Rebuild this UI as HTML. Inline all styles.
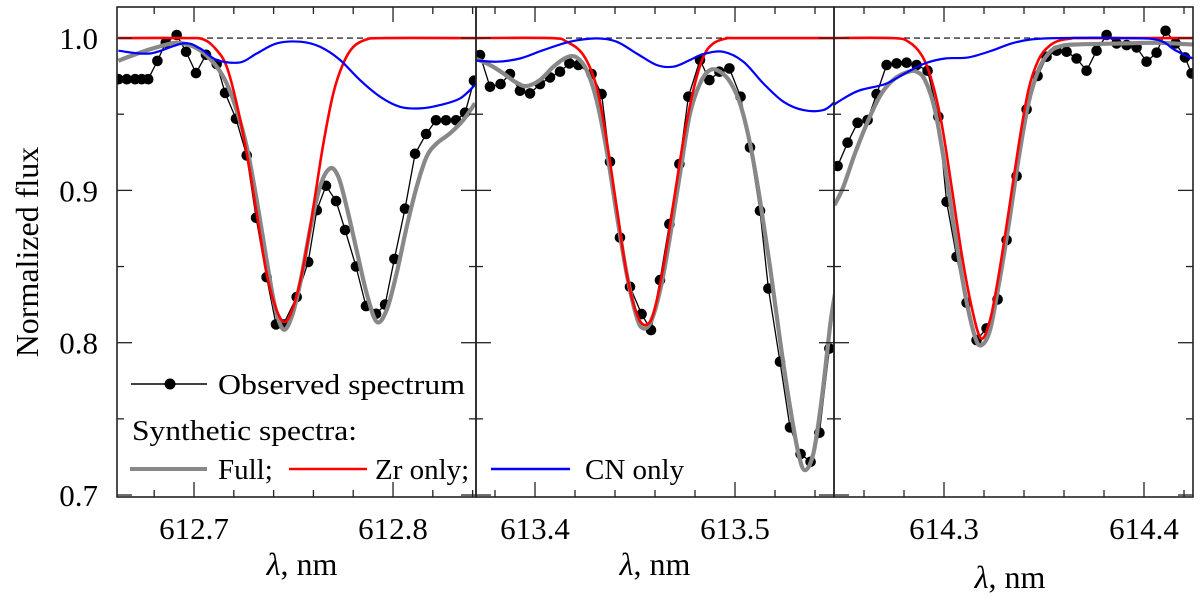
<!DOCTYPE html>
<html><head><meta charset="utf-8"><style>
html,body{margin:0;padding:0;background:#fff;}
svg{display:block;font-family:"Liberation Serif",serif;}
</style></head><body>
<svg id="chart" width="1200" height="601" viewBox="0 0 1200 601" xmlns="http://www.w3.org/2000/svg">
<defs>
<clipPath id="c0"><rect x="117" y="7" width="359" height="490"/></clipPath>
<clipPath id="c1"><rect x="476" y="7" width="358" height="490"/></clipPath>
<clipPath id="c2"><rect x="834" y="7" width="359" height="490"/></clipPath>
</defs>
<g id="plots"></g>
<g id="axes"></g>
<text x="0" y="0" transform="translate(38,252) rotate(-90)" text-anchor="middle" font-size="32">Normalized flux</text>
<g>
<line x1="131" y1="384" x2="207" y2="384" stroke="#000" stroke-width="1.5"/>
<circle cx="170" cy="384" r="5.5" fill="#000"/>
<text x="218" y="394" font-size="29" textLength="247" lengthAdjust="spacingAndGlyphs">Observed spectrum</text>
<text x="132" y="440" font-size="29" textLength="225" lengthAdjust="spacingAndGlyphs">Synthetic spectra:</text>
<line x1="130" y1="469" x2="207" y2="469" stroke="#888" stroke-width="4"/>
<text x="218" y="479" font-size="29">Full;</text>
<line x1="289" y1="469" x2="367" y2="469" stroke="#f00" stroke-width="2.5"/>
<text x="375" y="479" font-size="29">Zr only;</text>
<line x1="491" y1="469" x2="570" y2="469" stroke="#00f" stroke-width="2.5"/>
<text x="585" y="479" font-size="29">CN only</text>
</g>
</svg>
<script>
// ---- data ----
const panelRanges = [[612.6613, 612.8417], [613.3705, 613.5495], [614.245, 614.4245]];
const xTickLabels = [["612.7", "612.8"], ["613.4", "613.5"], ["614.3", "614.4"]];
const xTickValues = [[612.7, 612.8], [613.4, 613.5], [614.3, 614.4]];
const yTickLabels = ["0.7", "0.8", "0.9", "1.0"];
const yTickValues = [0.7, 0.8, 0.9, 1.0];
const yRange = [0.6987, 1.0204];

const obsLam0 = [612.6620,612.6662,612.6704,612.6737,612.6770,612.6816,612.6858,612.6913,612.6960,612.7010,612.7060,612.7114,612.7156,612.7211,612.7265,612.7312,612.7365,612.7412,612.7449,612.7516,612.7574,612.7617,612.7663,612.7714,612.7759,612.7814,612.7864,612.7915,612.7960,612.8007,612.8060,612.8111,612.8166,612.8216,612.8266,612.8317,612.8362,612.8407];
const obsFlux0 = [0.973,0.973,0.973,0.973,0.973,0.985,0.997,1.002,0.991,0.977,0.989,0.983,0.964,0.947,0.923,0.882,0.843,0.812,0.812,0.830,0.853,0.887,0.903,0.893,0.874,0.850,0.824,0.819,0.825,0.855,0.888,0.924,0.937,0.946,0.946,0.946,0.951,0.972];
const fullLam0 = [612.6620,612.6695,612.6779,612.6863,612.6913,612.6980,612.7047,612.7114,612.7164,612.7214,612.7265,612.7315,612.7365,612.7407,612.7449,612.7491,612.7533,612.7583,612.7633,612.7683,612.7725,612.7767,612.7817,612.7868,612.7918,612.7968,612.8018,612.8069,612.8119,612.8169,612.8219,612.8286,612.8353,612.8412];
const fullFlux0 = [0.9851,0.9888,0.9926,0.9958,0.9969,0.9954,0.9904,0.9812,0.9702,0.9527,0.9287,0.8936,0.8542,0.8236,0.8087,0.8170,0.8389,0.8739,0.9024,0.9144,0.9090,0.8893,0.8608,0.8323,0.8137,0.8214,0.8455,0.8761,0.9024,0.9221,0.9308,0.9374,0.9462,0.9571];
const zrLam0 = [612.6620,612.6946,612.7047,612.7114,612.7164,612.7214,612.7265,612.7315,612.7365,612.7415,612.7457,612.7499,612.7549,612.7600,612.7650,612.7700,612.7750,612.7801,612.7868,612.7951,612.8412];
const zrFlux0 = [1.0,1.0,0.9991,0.9921,0.9812,0.9571,0.9243,0.8849,0.8455,0.8214,0.8137,0.8236,0.8499,0.8893,0.9308,0.9637,0.9834,0.9943,0.9991,1.0,1.0];
const cnLam0 = [612.6620,612.6779,612.6946,612.7030,612.7114,612.7231,612.7315,612.7415,612.7533,612.7633,612.7734,612.7834,612.7935,612.8035,612.8136,612.8236,612.8337,612.8412];
const cnFlux0 = [0.9917,0.9899,0.9965,0.9932,0.9856,0.9840,0.9899,0.9965,0.9976,0.9943,0.9856,0.9724,0.9615,0.9549,0.9538,0.9560,0.9604,0.9691];

const obsLam1 = [613.3725,613.3775,613.3828,613.3875,613.3925,613.3975,613.4025,613.4075,613.4125,613.4172,613.4217,613.4283,613.4333,613.4375,613.4425,613.4475,613.4533,613.4580,613.4625,613.4672,613.4722,613.4767,613.4825,613.4872,613.4922,613.4972,613.5028,613.5075,613.5125,613.5167,613.5225,613.5275,613.5328,613.5378,613.5422,613.5472];
const obsFlux1 = [0.9888,0.9680,0.9698,0.9764,0.9654,0.9637,0.9698,0.9742,0.9779,0.9834,0.9823,0.9764,0.9632,0.9188,0.8691,0.8367,0.8188,0.8083,0.8411,0.8779,0.9173,0.9615,0.9856,0.9724,0.9779,0.9801,0.9615,0.9282,0.8866,0.8356,0.7875,0.7444,0.7269,0.7218,0.7409,0.7962];
const fullLam1 = [613.3700,613.3775,613.3842,613.3908,613.3958,613.4025,613.4092,613.4158,613.4208,613.4258,613.4308,613.4358,613.4408,613.4458,613.4508,613.4542,613.4583,613.4633,613.4683,613.4733,613.4775,613.4825,613.4875,613.4925,613.4975,613.5025,613.5075,613.5125,613.5175,613.5225,613.5275,613.5317,613.5350,613.5392,613.5433,613.5475,613.5500];
const fullFlux1 = [0.9866,0.9823,0.9768,0.9707,0.9685,0.9724,0.9812,0.9873,0.9873,0.9790,0.9593,0.9265,0.8849,0.8455,0.8170,0.8094,0.8148,0.8389,0.8761,0.9177,0.9505,0.9702,0.9790,0.9779,0.9713,0.9571,0.9308,0.8936,0.8499,0.8017,0.7579,0.7273,0.7163,0.7273,0.7623,0.8105,0.8323];
const zrLam1 = [613.3675,613.4075,613.4158,613.4242,613.4308,613.4358,613.4408,613.4458,613.4508,613.4550,613.4592,613.4642,613.4692,613.4742,613.4792,613.4842,613.4892,613.4958,613.5008,613.5500];
const zrFlux1 = [1.0,1.0,0.9976,0.9888,0.9680,0.9330,0.8893,0.8455,0.8192,0.8116,0.8192,0.8499,0.8914,0.9330,0.9659,0.9877,0.9965,0.9998,1.0,1.0];
const cnLam1 = [613.3675,613.3808,613.3925,613.4042,613.4175,613.4308,613.4408,613.4508,613.4608,613.4692,613.4775,613.4842,613.4942,613.5042,613.5142,613.5242,613.5342,613.5442,613.5500];
const cnFlux1 = [0.9856,0.9845,0.9866,0.9921,0.9976,0.9998,0.9976,0.9899,0.9823,0.9812,0.9856,0.9895,0.9910,0.9845,0.9702,0.9582,0.9527,0.9527,0.9582];

const obsLam2 = [614.2468,614.2518,614.2568,614.2618,614.2663,614.2713,614.2763,614.2813,614.2863,614.2918,614.2972,614.3013,614.3063,614.3113,614.3163,614.3213,614.3268,614.3313,614.3363,614.3413,614.3468,614.3513,614.3563,614.3613,614.3663,614.3713,614.3763,614.3813,614.3863,614.3913,614.3963,614.4013,614.4063,614.4108,614.4158,614.4205,614.4238];
const obsFlux2 = [0.9160,0.9313,0.9444,0.9462,0.9632,0.9823,0.9834,0.9838,0.9823,0.9786,0.9483,0.8925,0.8564,0.8262,0.8017,0.8094,0.8284,0.8674,0.9094,0.9532,0.9751,0.9877,0.9917,0.9910,0.9866,0.9786,0.9917,1.0020,0.9965,0.9954,0.9939,0.9845,0.9904,1.0048,0.9965,0.9873,0.9768];
const fullLam2 = [614.2452,614.2497,614.2555,614.2622,614.2688,614.2755,614.2822,614.2863,614.2905,614.2955,614.3005,614.3055,614.3105,614.3155,614.3188,614.3230,614.3272,614.3322,614.3372,614.3422,614.3472,614.3522,614.3572,614.3655,614.3905,614.4072,614.4243];
const fullFlux2 = [0.8903,0.9024,0.9243,0.9462,0.9637,0.9735,0.9779,0.9779,0.9724,0.9527,0.9155,0.8717,0.8323,0.8039,0.7984,0.8083,0.8367,0.8761,0.9199,0.9571,0.9790,0.9899,0.9943,0.9958,0.9965,0.9969,0.9958];
const zrLam2 = [614.2405,614.2738,614.2822,614.2888,614.2938,614.2988,614.3038,614.3088,614.3138,614.3185,614.3230,614.3272,614.3322,614.3372,614.3422,614.3472,614.3522,614.3572,614.3638,614.3705,614.4243];
const zrFlux2 = [1.0,1.0,0.9976,0.9888,0.9724,0.9440,0.9024,0.8586,0.8236,0.8028,0.8148,0.8433,0.8849,0.9286,0.9659,0.9856,0.9943,0.9982,0.9998,1.0,1.0];
const cnLam2 = [614.2405,614.2472,614.2572,614.2705,614.2805,614.2905,614.3005,614.3122,614.3238,614.3338,614.3438,614.3572,614.3905,614.4072,614.4155,614.4243];
const cnFlux2 = [0.9516,0.9582,0.9654,0.9698,0.9768,0.9834,0.9866,0.9873,0.9917,0.9965,0.9991,1.0,1.0,0.9987,0.9921,0.9866];

const panels = [
 {obs:[obsLam0,obsFlux0], full:[fullLam0,fullFlux0], zr:[zrLam0,zrFlux0], cn:[cnLam0,cnFlux0]},
 {obs:[obsLam1,obsFlux1], full:[fullLam1,fullFlux1], zr:[zrLam1,zrFlux1], cn:[cnLam1,cnFlux1]},
 {obs:[obsLam2,obsFlux2], full:[fullLam2,fullFlux2], zr:[zrLam2,zrFlux2], cn:[cnLam2,cnFlux2]}
];

// ---- layout ----
const NS = "http://www.w3.org/2000/svg";
const frames = [[117,476],[476,834],[834,1193]];
const TOP = 7, BOT = 497;
function yScale(v){ return BOT - (v - yRange[0]) / (yRange[1]-yRange[0]) * (BOT-TOP); }
function xScale(p, v){ const r = panelRanges[p], f = frames[p]; return f[0] + (v - r[0])/(r[1]-r[0])*(f[1]-f[0]); }
function mk(tag, attrs, parent){ const e = document.createElementNS(NS, tag); for (const k in attrs) e.setAttribute(k, attrs[k]); parent.appendChild(e); return e; }
function smooth(pts){
  let d = "M" + pts[0][0].toFixed(1) + "," + pts[0][1].toFixed(1);
  for (let i=0;i<pts.length-1;i++){
    const p0 = pts[Math.max(i-1,0)], p1 = pts[i], p2 = pts[i+1], p3 = pts[Math.min(i+2,pts.length-1)];
    const c1x = p1[0]+(p2[0]-p0[0])/6, c1y = p1[1]+(p2[1]-p0[1])/6;
    const c2x = p2[0]-(p3[0]-p1[0])/6, c2y = p2[1]-(p3[1]-p1[1])/6;
    d += "C"+c1x.toFixed(1)+","+c1y.toFixed(1)+" "+c2x.toFixed(1)+","+c2y.toFixed(1)+" "+p2[0].toFixed(1)+","+p2[1].toFixed(1);
  }
  return d;
}
const plots = document.getElementById("plots");
const axes = document.getElementById("axes");
panels.forEach((pd, p) => {
  const g = mk("g", {"clip-path":"url(#c"+p+")"}, plots);
  
  
  const dl = mk("line", {x1:frames[p][0], x2:frames[p][1], y1:yScale(1), y2:yScale(1), stroke:"#000", "stroke-width":1.2, "stroke-dasharray":"6,4"}, g);
  
  
  const op = pd.obs[0].map((l,i)=>[xScale(p,l), yScale(pd.obs[1][i])]);
  const ol = mk("polyline", {points: op.map(q=>q[0].toFixed(1)+","+q[1].toFixed(1)).join(" "), fill:"none", stroke:"#000", "stroke-width":1.3}, g);
  
  
  op.forEach(q => {
    const c = mk("circle", {cx:q[0].toFixed(1), cy:q[1].toFixed(1), r:5.3, fill:"#000"}, g);
    
    
  });
  const styles = {full:["#888",4.2], zr:["#ff0000",2.6], cn:["#0000ff",2.2]};
  ["full","zr","cn"].forEach(s => {
    const pts = pd[s][0].map((l,i)=>[xScale(p,l), yScale(pd[s][1][i])]);
    const path = mk("path", {d: smooth(pts), fill:"none", stroke:styles[s][0], "stroke-width":styles[s][1], "stroke-linejoin":"round"}, g);
    
    
  });
  const fr = mk("rect", {x:frames[p][0], y:TOP, width:frames[p][1]-frames[p][0], height:BOT-TOP, fill:"none", stroke:"#222", "stroke-width":1.6}, axes);
  
  
  const r = panelRanges[p];
  for (let k = Math.ceil(r[0]/0.02 - 1e-6); k*0.02 <= r[1]; k++){
    const v = k*0.02, x = xScale(p, v);
    const major = Math.abs(v*10 - Math.round(v*10)) < 1e-6;
    const len = major ? 15 : 7;
    const t1 = mk("line", {x1:x, x2:x, y1:BOT, y2:BOT-len, stroke:"#222", "stroke-width":1.3}, axes);
    
    
    const t2 = mk("line", {x1:x, x2:x, y1:TOP, y2:TOP+len, stroke:"#222", "stroke-width":1.3}, axes);
    
    
  }
  xTickValues[p].forEach((v,i) => {
    const t = mk("text", {x:xScale(p,v), y:539, "text-anchor":"middle", "font-size":31}, axes);
    t.textContent = xTickLabels[p][i];
    
    
  });
  for (let k=0; k<=6; k++){
    const v = 0.7 + k*0.05, y = yScale(v);
    const len = (k%2===0) ? 15 : 7;
    [[frames[p][0], 1],[frames[p][1], -1]].forEach(s => {
      const t = mk("line", {x1:s[0], x2:s[0]+s[1]*len, y1:y, y2:y, stroke:"#222", "stroke-width":1.3}, axes);
      
      
    });
  }
  const xt = mk("text", {x:[302,655,1010][p], y:[575,575,588][p], "text-anchor":"middle", "font-size":32}, axes);
  xt.innerHTML = '<tspan font-style="italic">λ</tspan>, nm';
  
  
});
yTickValues.forEach((v,i) => {
  const t = mk("text", {x:98, y:yScale(v)+11, "text-anchor":"end", "font-size":31}, axes);
  t.textContent = yTickLabels[i];
  
  
});
</script>
</body></html>
